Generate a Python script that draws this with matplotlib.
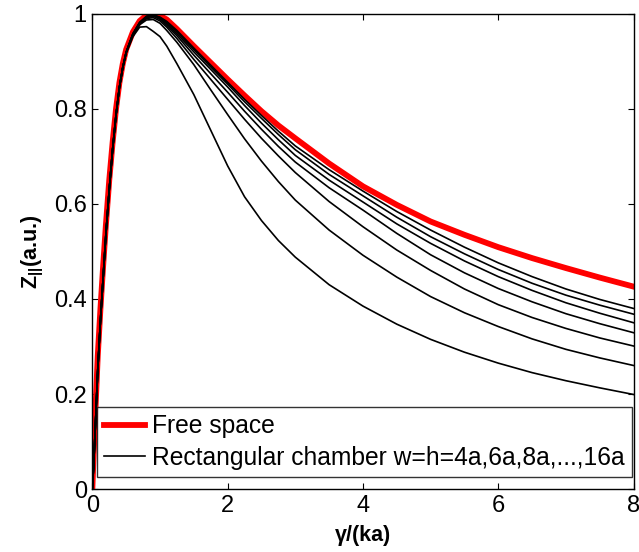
import numpy as np
import matplotlib.pyplot as plt
from matplotlib.lines import Line2D

plt.rcParams['font.family'] = ['Liberation Sans', 'DejaVu Sans']
plt.rcParams['mathtext.fontset'] = 'custom'
plt.rcParams['mathtext.rm'] = 'Liberation Sans'
plt.rcParams['mathtext.bf'] = 'Liberation Sans:bold'

# sample points (x = gamma/(ka))
x = [0, 0.02, 0.05, 0.08, 0.12, 0.16, 0.2, 0.25, 0.3, 0.35, 0.4, 0.45, 0.5,
     0.6, 0.7, 0.8, 0.9, 1.0, 1.1, 1.25, 1.5, 1.75, 2.0, 2.25, 2.5, 2.75,
     3.0, 3.5, 4.0, 4.5, 5.0, 5.5, 6.0, 6.5, 7.0, 7.5, 8.0]

# free space
z_free = [0, 0.075, 0.18, 0.28, 0.38, 0.47, 0.555, 0.65, 0.73, 0.80, 0.855, 0.895, 0.925,
          0.962, 0.985, 0.997, 1.0, 0.996, 0.988, 0.968, 0.932, 0.897, 0.862, 0.828, 0.795, 0.765,
          0.738, 0.685, 0.637, 0.598, 0.563, 0.535, 0.509, 0.486, 0.465, 0.445, 0.426]

# rectangular chamber, w=h=4a,6a,...,16a
z_4a = [0, 0.05, 0.15, 0.25, 0.355, 0.445, 0.535, 0.63, 0.715, 0.787, 0.845, 0.887, 0.917,
        0.952, 0.972, 0.973, 0.963, 0.952, 0.932, 0.895, 0.83, 0.755, 0.68, 0.615, 0.565, 0.523,
        0.488, 0.43, 0.385, 0.347, 0.315, 0.288, 0.265, 0.245, 0.228, 0.213, 0.199]
z_6a = [0, 0.05, 0.15, 0.25, 0.355, 0.445, 0.535, 0.63, 0.715, 0.787, 0.845, 0.887, 0.918,
        0.955, 0.977, 0.987, 0.988, 0.980, 0.965, 0.94, 0.893, 0.84, 0.788, 0.737, 0.69, 0.647,
        0.608, 0.545, 0.492, 0.446, 0.405, 0.371, 0.342, 0.316, 0.294, 0.276, 0.260]
z_8a = [0, 0.05, 0.15, 0.25, 0.355, 0.445, 0.535, 0.63, 0.715, 0.787, 0.845, 0.887, 0.919,
        0.956, 0.979, 0.99, 0.992, 0.985, 0.972, 0.948, 0.904, 0.862, 0.82, 0.778, 0.738, 0.701,
        0.666, 0.605, 0.552, 0.503, 0.46, 0.421, 0.388, 0.361, 0.338, 0.318, 0.301]
z_10a = [0, 0.05, 0.15, 0.25, 0.355, 0.445, 0.535, 0.63, 0.715, 0.787, 0.845, 0.887, 0.919,
         0.957, 0.98, 0.992, 0.995, 0.988, 0.976, 0.954, 0.913, 0.874, 0.835, 0.795, 0.757, 0.721,
         0.688, 0.634, 0.587, 0.538, 0.493, 0.455, 0.422, 0.394, 0.369, 0.348, 0.329]
z_12a = [0, 0.05, 0.15, 0.25, 0.355, 0.445, 0.535, 0.63, 0.715, 0.787, 0.845, 0.887, 0.919,
         0.958, 0.981, 0.993, 0.996, 0.990, 0.979, 0.958, 0.92, 0.883, 0.846, 0.807, 0.77, 0.735,
         0.702, 0.65, 0.604, 0.558, 0.517, 0.48, 0.447, 0.418, 0.392, 0.37, 0.350]
z_14a = [0, 0.05, 0.15, 0.25, 0.355, 0.445, 0.535, 0.63, 0.715, 0.787, 0.845, 0.887, 0.919,
         0.958, 0.982, 0.994, 0.997, 0.992, 0.982, 0.962, 0.925, 0.888, 0.852, 0.815, 0.78, 0.746,
         0.714, 0.662, 0.617, 0.572, 0.531, 0.495, 0.462, 0.433, 0.408, 0.387, 0.368]
z_16a = [0, 0.05, 0.15, 0.25, 0.355, 0.445, 0.535, 0.63, 0.715, 0.787, 0.845, 0.887, 0.919,
         0.958, 0.982, 0.995, 0.998, 0.993, 0.984, 0.965, 0.928, 0.892, 0.856, 0.82, 0.786, 0.753,
         0.722, 0.672, 0.627, 0.584, 0.545, 0.509, 0.476, 0.447, 0.421, 0.399, 0.380]
chambers = [z_4a, z_6a, z_8a, z_10a, z_12a, z_14a, z_16a]

fig = plt.figure(figsize=(6.39, 5.52), dpi=100)
ax = fig.add_axes([0.1445, 0.114, 0.847, 0.861])

ax.plot(x, z_free, color='red', lw=4.2, zorder=2)
for z in chambers:
    ax.plot(x, z, color='black', lw=1.2, zorder=3)

ax.set_xlim(0, 8)
ax.set_ylim(0, 1)
ax.set_xticks([0, 2, 4, 6, 8])
ax.set_yticks([0, 0.2, 0.4, 0.6, 0.8, 1])
ax.set_yticklabels(['0', '0.2', '0.4', '0.6', '0.8', '1'])
ax.tick_params(direction='in', top=True, right=True, length=4, width=0.8,
               labelsize=17, pad=4)
for s in ax.spines.values():
    s.set_linewidth(1.0)

ax.set_xlabel('γ/(ka)', fontsize=15.5, fontweight='bold', labelpad=6)
ax.set_ylabel(r'$\mathbf{Z_{||}}$(a.u.)', fontsize=15.5, fontweight='bold', labelpad=6)

handles = [Line2D([], [], color='red', lw=4.2),
           Line2D([], [], color='black', lw=1.2)]
leg = ax.legend(handles, ['Free space', 'Rectangular chamber w=h=4a,6a,8a,...,16a'],
                loc='lower left', bbox_to_anchor=(0.0087, 0.025, 0.989, 0.143),
                mode='expand', fontsize=17.7, frameon=True, fancybox=False,
                borderaxespad=0, borderpad=0.3, labelspacing=0.3,
                handlelength=1.67, handletextpad=0.25)
leg.get_frame().set_edgecolor('black')
leg.get_frame().set_linewidth(1.0)

fig.savefig('out.png', dpi=100)
